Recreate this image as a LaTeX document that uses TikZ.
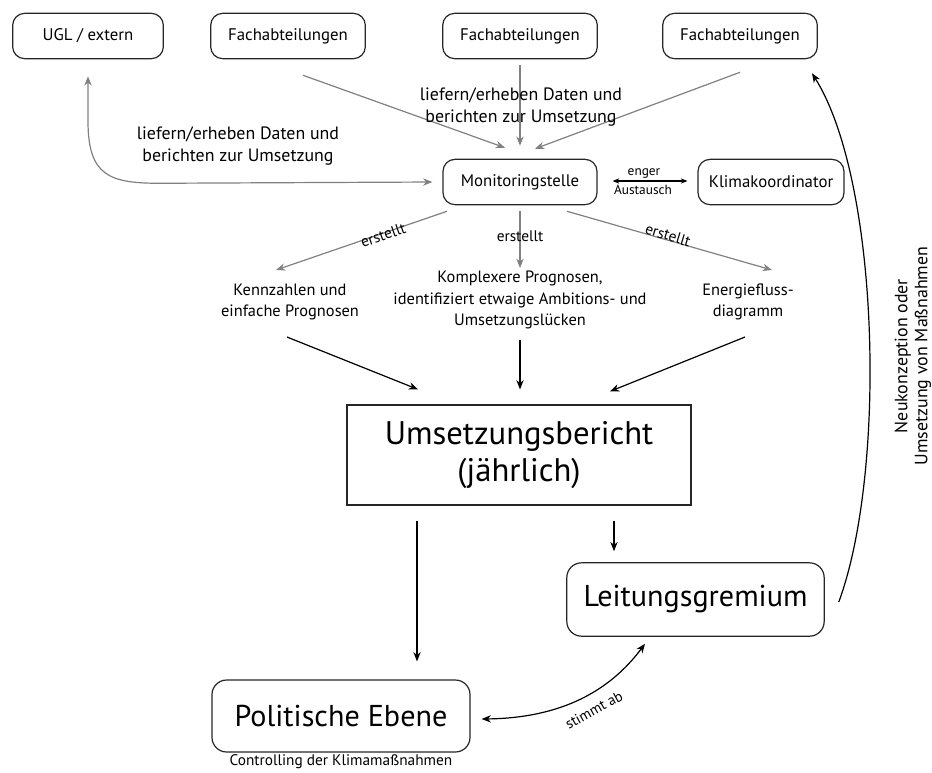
\documentclass[tikz,border=0pt]{standalone}
\usepackage{fontspec}
\setmainfont{PT Sans}
\usetikzlibrary{arrows.meta,calc}
\begin{document}
\begin{tikzpicture}[x=0.75pt,y=-0.75pt,
  box/.style={draw=black!85, rounded corners=9pt, line width=0.9pt, font=\fontsize{12.6}{15}\selectfont, inner sep=0pt, minimum height=34pt},
  bigbox/.style={draw=black!85, rounded corners=11pt, line width=0.9pt, font=\fontsize{22.6}{27}\selectfont, inner sep=0pt},
  gtip/.tip={Stealth[length=7pt,width=5.5pt]},
  garr/.style={draw=black!50, line width=0.9pt, -gtip},
  barr/.style={draw=black, line width=0.9pt, -gtip},
  lbl/.style={font=\fontsize{13.4}{16.5}\selectfont, align=center, inner sep=0pt},
  txt/.style={font=\fontsize{12.3}{16.2}\selectfont, align=center, inner sep=0pt},
  small/.style={font=\fontsize{11.5}{13.5}\selectfont, align=center, inner sep=0pt},
  tiny/.style={font=\fontsize{10}{11}\selectfont, inner sep=0pt}
]
\useasboundingbox (0,0) rectangle (932,772);

% top row
\node[box, minimum width=113pt] (ugl) at (88,36) {UGL / extern};
\node[box, minimum width=116pt] (f1) at (288,36) {Fachabteilungen};
\node[box, minimum width=116pt] (f2) at (520,36) {Fachabteilungen};
\node[box, minimum width=116pt] (f3) at (740,36) {Fachabteilungen};

% middle row
\node[box, minimum width=115.5pt] (mon) at (520,182) {Monitoringstelle};
\node[box, minimum width=109.5pt] (kk) at (771,182) {Klimakoordinator};

% products
\node[txt] (kenn) at (290,302) {Kennzahlen und\\einfache Prognosen};
\node[txt] (komp) at (520,300) {Komplexere Prognosen,\\identifiziert etwaige Ambitions- und\\Umsetzungslücken};
\node[txt] (ener) at (748,302) {Energiefluss-\\diagramm};

% report and bodies
\node[draw=black!85, line width=0.9pt, minimum width=258pt, minimum height=75pt, inner sep=0pt, align=center, font=\fontsize{24.5}{28}\selectfont] (ber) at (519,455) {Umsetzungsbericht\\(jährlich)};
\node[bigbox, minimum width=193pt, minimum height=55pt] (leit) at (695.5,599.5) {Leitungsgremium};
\node[bigbox, minimum width=193.5pt, minimum height=54pt] (pol) at (341,716) {Politische Ebene};
\node[small] (ctrl) at (341,762) {Controlling der Klimamaßnahmen};

% Fachabteilungen -> Monitoringstelle
\draw[garr] ($(f1.south)+(15,16)$) -- ($(mon.north)+(-15,-11)$);
\draw[garr] ($(f2.south)+(0,6)$) -- ($(mon.north)+(0,-13)$);
\draw[garr] ($(f3.south)+(0,13)$) -- ($(mon.north)+(15,-10)$);
\node[lbl] (lab1) at (521,107) {liefern/erheben Daten und\\berichten zur Umsetzung};

% UGL <-> Monitoringstelle
\draw[draw=black!50, line width=0.9pt, gtip-gtip] ($(ugl.south)+(0,17)$) -- ++(0,45) .. controls +(0,55) and +(-50,0) .. ++(72,62) -- ($(mon.west)+(-10,0)$);
\node[lbl] (lab2) at (238,146) {liefern/erheben Daten und\\berichten zur Umsetzung};

% enger Austausch
\draw[line width=0.8pt, {Stealth[length=5pt,width=4pt]}-{Stealth[length=5pt,width=4pt]}] ($(mon.east)+(15,-1)$) -- ($(kk.west)+(-10,-1)$);
\node[tiny] (eng) at (644,173) {enger};
\node[tiny] (aus) at (643,190) {Austausch};

% erstellt
\draw[garr] ($(mon.south)+(-73,6)$) -- ($(kenn.center)+(-14,-32)$);
\draw[garr] ($(mon.south)+(0,6)$) -- ($(komp.center)+(0,-32)$);
\draw[garr] ($(mon.south)+(47,6)$) -- ($(ener.center)+(24,-32)$);
\node[small, rotate=19] (e1) at (383,235) {erstellt};
\node[small] (e2) at (520,236) {erstellt};
\node[small, rotate=-17] (e3) at (668,235) {erstellt};

% products -> report
\draw[barr] ($(kenn.center)+(-3,35)$) -- ($(ber.north)+(-101,-15)$);
\draw[barr] ($(komp.center)+(0,40)$) -- ($(ber.north)+(1,-15)$);
\draw[barr] ($(ener.center)+(-3,35)$) -- ($(ber.north)+(91,-13)$);

% report -> bodies
\draw[barr] ($(ber.south)+(-102,15)$) -- ($(pol.north)+(76,-18)$);
\draw[barr] ($(ber.south)+(95,15)$) -- ($(leit.north)+(-81.5,-11)$);

% stimmt ab
\draw[line width=0.9pt, gtip-gtip] ($(pol.east)+(11,3)$) .. controls +(80,-1) and +(-35,47) .. ($(leit.south)+(-50.5,7)$);
\node[font=\fontsize{11}{12}\selectfont, inner sep=0pt, rotate=29] (st) at (594,710) {stimmt ab};

% Neukonzeption
\draw[line width=0.9pt, -gtip] ($(leit.east)+(14,2.5)$) .. controls +(48,-130) and +(68,108) .. ($(f3.south)+(72,14)$);
\node[font=\fontsize{13.4}{15}\selectfont, align=center, inner sep=0pt, rotate=90] (neu) at (913,356) {Neukonzeption oder\\Umsetzung von Maßnahmen};
\end{tikzpicture}
\end{document}
